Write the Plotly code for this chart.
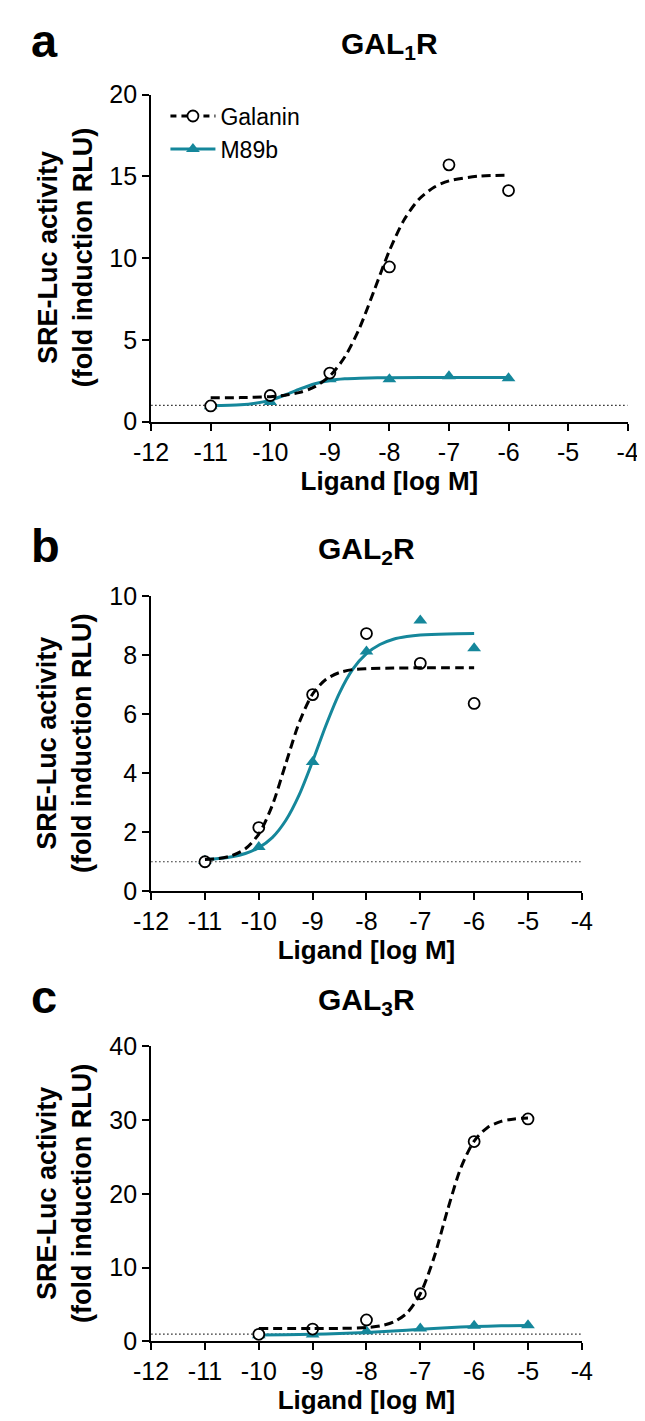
import plotly.graph_objects as go

# ---------------- data ----------------
# Panel a: GAL1R
logM_a = [-11, -10, -9, -8, -7, -6]
gal_a = [0.96, 1.6, 2.97, 9.46, 15.7, 14.13]
m89_a = [0.95, 1.2, 2.6, 2.6, 2.77, 2.65]
fitx_a_gal = [-11, -10.5, -10, -9.75, -9.5, -9.25, -9, -8.75, -8.5, -8.25, -8, -7.75, -7.5, -7.25, -7, -6.5, -6]
fity_a_gal = [1.46, 1.47, 1.53, 1.62, 1.79, 2.14, 2.79, 3.95, 5.74, 8.08, 10.45, 12.36, 13.61, 14.33, 14.72, 15.01, 15.07]
fitx_a_m89 = [-11, -10.5, -10.25, -10, -9.75, -9.5, -9.25, -9, -8.75, -8.5, -8, -7, -6]
fity_a_m89 = [0.97, 1.03, 1.13, 1.32, 1.63, 2.0, 2.32, 2.52, 2.62, 2.66, 2.69, 2.7, 2.7]

# Panel b: GAL2R
logM_b = [-11, -10, -9, -8, -7, -6]
gal_b = [1.0, 2.16, 6.67, 8.74, 7.73, 6.37]
m89_b = [1.03, 1.5, 4.38, 8.13, 9.18, 8.24]
fitx_b_gal = [-11, -10.75, -10.5, -10.25, -10, -9.75, -9.5, -9.25, -9, -8.75, -8.5, -8.25, -8, -7.5, -7, -6]
fity_b_gal = [1.08, 1.11, 1.21, 1.44, 1.94, 2.91, 4.32, 5.72, 6.69, 7.19, 7.42, 7.52, 7.55, 7.57, 7.58, 7.58]
fitx_b_m89 = [-11, -10.75, -10.5, -10.25, -10, -9.75, -9.5, -9.25, -9, -8.75, -8.5, -8.25, -8, -7.75, -7.5, -7.25, -7, -6.5, -6]
fity_b_m89 = [1.08, 1.11, 1.17, 1.28, 1.48, 1.82, 2.40, 3.27, 4.41, 5.64, 6.73, 7.54, 8.06, 8.37, 8.55, 8.64, 8.69, 8.73, 8.74]

# Panel c: GAL3R
logM_c = [-10, -9, -8, -7, -6, -5]
gal_c = [0.97, 1.68, 2.92, 6.47, 27.1, 30.17]
m89_c = [0.85, 0.93, 1.37, 1.77, 2.13, 2.2]
fitx_c_gal = [-10, -9, -8.5, -8, -7.75, -7.5, -7.25, -7, -6.75, -6.5, -6.25, -6, -5.75, -5.5, -5.25, -5]
fity_c_gal = [1.75, 1.75, 1.77, 1.89, 2.10, 2.62, 3.84, 6.48, 11.27, 17.67, 23.47, 27.17, 29.02, 29.84, 30.17, 30.31]
fitx_c_m89 = [-10, -9.5, -9, -8.5, -8, -7.5, -7, -6.5, -6, -5.5, -5]
fity_c_m89 = [0.88, 0.92, 0.98, 1.08, 1.22, 1.42, 1.65, 1.87, 2.02, 2.12, 2.17]

baseline_x = [-12, -4]
baseline_y = [1, 1]

x_ticks = [-12, -11, -10, -9, -8, -7, -6, -5, -4]
x_ticktext = ["-12", "-11", "-10", "-9", "-8", "-7", "-6", "-5", "-4"]
y_ticks_a = [0, 5, 10, 15, 20]
y_ticks_b = [0, 2, 4, 6, 8, 10]
y_ticks_c = [0, 10, 20, 30, 40]

panel_letters = ["a", "b", "c"]
panel_titles = ["GAL<sub>1</sub>R", "GAL<sub>2</sub>R", "GAL<sub>3</sub>R"]
series_names = ["Galanin", "M89b"]

# ---------------- style ----------------
W, H = 645, 1421
TEAL = "#15879b"
FONT = "Liberation Sans, Arial, sans-serif"
DASH = "9px,5px"


def py(px):
    return 1 - px / H


fig = go.Figure()

panels = [
    ("x", "y", logM_a, gal_a, m89_a, fitx_a_gal, fity_a_gal, fitx_a_m89, fity_a_m89),
    ("x2", "y2", logM_b, gal_b, m89_b, fitx_b_gal, fity_b_gal, fitx_b_m89, fity_b_m89),
    ("x3", "y3", logM_c, gal_c, m89_c, fitx_c_gal, fity_c_gal, fitx_c_m89, fity_c_m89),
]

for i, (xa, ya, lx, g, m, fxg, fyg, fxm, fym) in enumerate(panels):
    fig.add_trace(go.Scatter(x=baseline_x, y=baseline_y, mode="lines", xaxis=xa, yaxis=ya,
                             line=dict(color="#222", width=1.2, dash="1.5px,2.5px"), showlegend=False,
                             hoverinfo="skip"))
    fig.add_trace(go.Scatter(x=lx, y=m, mode="markers", xaxis=xa, yaxis=ya,
                             marker=dict(symbol="triangle-up", size=12, color=TEAL),
                             showlegend=False))
    fig.add_trace(go.Scatter(x=fxm, y=fym, mode="lines", xaxis=xa, yaxis=ya,
                             line=dict(color=TEAL, width=3, shape="spline", smoothing=0.8),
                             showlegend=False, hoverinfo="skip"))
    fig.add_trace(go.Scatter(x=lx, y=g, mode="markers", xaxis=xa, yaxis=ya,
                             marker=dict(symbol="circle", size=11, color="white",
                                         line=dict(color="black", width=1.8)),
                             showlegend=False))
    fig.add_trace(go.Scatter(x=fxg, y=fyg, mode="lines", xaxis=xa, yaxis=ya,
                             line=dict(color="black", width=3, dash=DASH, shape="spline", smoothing=0.8),
                             showlegend=False, hoverinfo="skip"))

# legend entries (panel a)
fig.add_trace(go.Scatter(x=[None], y=[None], mode="lines+markers", name=series_names[0],
                         line=dict(color="black", width=3, dash="6px,5px"),
                         marker=dict(symbol="circle", size=11, color="white",
                                     line=dict(color="black", width=1.8))))
fig.add_trace(go.Scatter(x=[None], y=[None], mode="lines+markers", name=series_names[1],
                         line=dict(color=TEAL, width=3),
                         marker=dict(symbol="triangle-up", size=12, color=TEAL)))

axis_common = dict(showline=True, linecolor="black", linewidth=2, ticks="outside",
                   ticklen=7, tickwidth=2, tickcolor="black", showgrid=False, zeroline=False,
                   tickfont=dict(family=FONT, size=25, color="black"))

xdom_a = [131 / W, 630 / W]
xdom_bc = [131 / W, 582 / W]
ydoms = [[py(407.7), py(74)], [py(886.7), py(586)], [py(1346), py(1045)]]
yticks = [y_ticks_a, y_ticks_b, y_ticks_c]
yranges = [[0, 20], [0, 10], [0, 40]]
xdoms = [xdom_a, xdom_bc, xdom_bc]

layout_axes = {}
for i in range(3):
    sx = "" if i == 0 else str(i + 1)
    layout_axes["xaxis" + sx] = dict(axis_common, domain=xdoms[i], anchor="y" + sx, range=[-12, -4],
                                     tickvals=x_ticks, ticktext=x_ticktext,
                                     title=dict(text="Ligand [log M]", standoff=5,
                                                font=dict(family=FONT, size=26, color="black", weight="bold")))
    layout_axes["yaxis" + sx] = dict(axis_common, domain=ydoms[i], anchor="x" + sx, range=yranges[i],
                                     tickvals=yticks[i])

fig.update_layout(**layout_axes)

annotations = []
title_y = [21, 536, 996]
for i in range(3):
    cx = (xdoms[i][0] + xdoms[i][1]) / 2
    annotations.append(dict(text="<b>" + panel_titles[i] + "</b>", x=cx, y=py(title_y[i] + 3), xref="paper", yref="paper",
                            xanchor="center", yanchor="middle", showarrow=False,
                            font=dict(family=FONT, size=30, color="black")))
    annotations.append(dict(text="<b>" + panel_letters[i] + "</b>", x=3 / W, y=py(title_y[i] - 2), xref="paper", yref="paper",
                            xanchor="left", yanchor="middle", showarrow=False,
                            font=dict(family=FONT, size=47, color="black")))
    ymid = (ydoms[i][0] + ydoms[i][1]) / 2
    annotations.append(dict(text="<b>SRE-Luc activity<br>(fold induction RLU)</b>", x=41 / W, y=ymid,
                            xref="paper", yref="paper", xanchor="center", yanchor="middle",
                            textangle=-90, showarrow=False,
                            font=dict(family=FONT, size=27, color="black")))

fig.update_layout(
    width=W, height=H, margin=dict(l=0, r=0, t=0, b=0),
    paper_bgcolor="white", plot_bgcolor="white",
    font=dict(family=FONT, color="black"),
    annotations=annotations,
    showlegend=True,
    legend=dict(x=146 / W, y=py(74), xanchor="left", yanchor="top", bgcolor="rgba(0,0,0,0)",
                font=dict(family=FONT, size=23, color="black"), itemwidth=45, tracegroupgap=0),
)

fig.write_html("out.html")
